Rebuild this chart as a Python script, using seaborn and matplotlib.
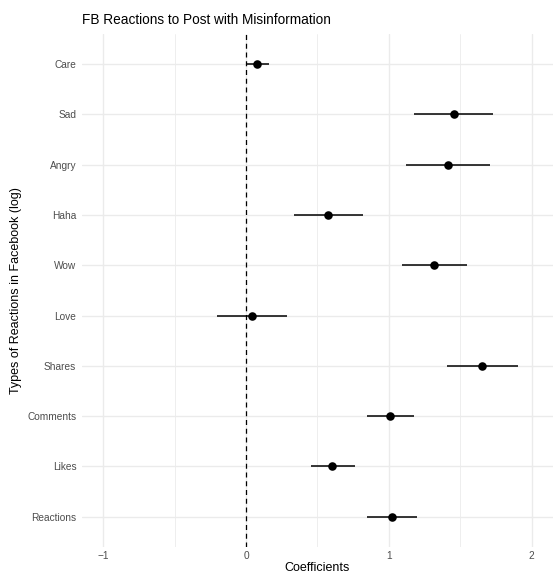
import numpy as np
import pandas as pd
import matplotlib
matplotlib.use("Agg")
import matplotlib.pyplot as plt
import seaborn as sns

# Coefficients (bottom to top)
terms = ["Reactions", "Likes", "Comments", "Shares", "Love",
         "Wow", "Haha", "Angry", "Sad", "Care"]
estimate = [1.025, 0.605, 1.006, 1.655, 0.043, 1.316, 0.577, 1.414, 1.454, 0.075]
ci_low = [0.848, 0.454, 0.848, 1.405, -0.20, 1.09, 0.337, 1.12, 1.176, 0.0]
ci_high = [1.20, 0.76, 1.173, 1.907, 0.29, 1.546, 0.82, 1.71, 1.73, 0.16]

df = pd.DataFrame({"term": terms, "estimate": estimate,
                   "lo": ci_low, "hi": ci_high})

sns.set_theme(style="whitegrid")
plt.rcParams["font.family"] = ["Liberation Sans", "DejaVu Sans"]

fig = plt.figure(figsize=(5.53, 5.75), dpi=100)
ax = fig.add_axes([0.148, 0.049, 0.852, 0.892])

# error bars
ax.hlines(y=df["term"], xmin=df["lo"], xmax=df["hi"], color="black",
          linewidth=1.1, zorder=3)
sns.scatterplot(data=df, x="estimate", y="term", color="black", s=38,
                edgecolor="black", linewidth=0, zorder=4, ax=ax)
ax.axvline(0, color="black", linestyle=(0, (4, 3)), linewidth=0.9, zorder=2)

ax.set_xlim(-1.15, 2.15)
ax.set_ylim(-0.6, len(terms) - 0.4)
ax.set_xticks([-1, 0, 1, 2])
ax.set_xticklabels(["\u22121", "0", "1", "2"])
ax.set_xticks([-0.5, 0.5, 1.5], minor=True)

ax.grid(True, which="major", color="#EBEBEB", linewidth=1.0)
ax.grid(True, which="minor", axis="x", color="#EBEBEB", linewidth=0.6)
ax.set_facecolor("white")
for s in ax.spines.values():
    s.set_visible(False)
ax.tick_params(axis="both", which="both", length=0, labelsize=7.3,
               labelcolor="#4D4D4D")
ax.tick_params(axis="x", pad=3)
ax.tick_params(axis="y", pad=4)

ax.set_xlabel("Coefficients", fontsize=9, color="black", labelpad=1)
ax.set_ylabel("Types of Reactions in Facebook (log)", fontsize=9,
              color="black", labelpad=4)
ax.set_title("FB Reactions to Post with Misinformation", fontsize=9.8,
             loc="left", pad=7, color="black")

fig.savefig("out.png", dpi=100, facecolor="white")
